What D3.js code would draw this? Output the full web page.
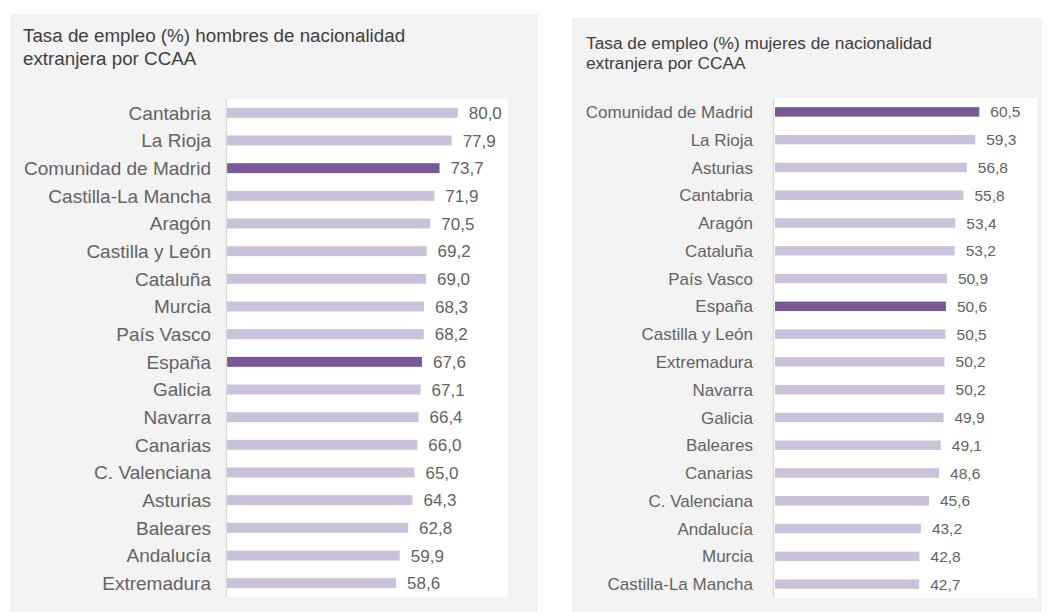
<!DOCTYPE html>
<html><head><meta charset="utf-8">
<script src="https://cdn.jsdelivr.net/npm/d3@7"></script>
<style>html,body{margin:0;padding:0;background:#fff;}svg{display:block;font-family:"Liberation Sans",Arial,sans-serif;}</style>
</head><body>
<svg id="c" width="1052" height="612"></svg>
<script>
const menCategories = ["Cantabria","La Rioja","Comunidad de Madrid","Castilla-La Mancha","Aragón","Castilla y León","Cataluña","Murcia","País Vasco","España","Galicia","Navarra","Canarias","C. Valenciana","Asturias","Baleares","Andalucía","Extremadura"];
const menValues = [80.0,77.9,73.7,71.9,70.5,69.2,69.0,68.3,68.2,67.6,67.1,66.4,66.0,65.0,64.3,62.8,59.9,58.6];
const womenCategories = ["Comunidad de Madrid","La Rioja","Asturias","Cantabria","Aragón","Cataluña","País Vasco","España","Castilla y León","Extremadura","Navarra","Galicia","Baleares","Canarias","C. Valenciana","Andalucía","Murcia","Castilla-La Mancha"];
const womenValues = [60.5,59.3,56.8,55.8,53.4,53.2,50.9,50.6,50.5,50.2,50.2,49.9,49.1,48.6,45.6,43.2,42.8,42.7];
const highlighted = ["Comunidad de Madrid","España"];
const titles = [["Tasa de empleo (%) hombres de nacionalidad","extranjera por CCAA"],["Tasa de empleo (%) mujeres de nacionalidad","extranjera por CCAA"]];

const svg = d3.select("#c");
const LIGHT = "#ccc1da", DARK = "#795896";

function panel(cfg){
  const g = svg.append("g");
  g.append("rect").attr("x",cfg.px).attr("y",cfg.py).attr("width",cfg.pw).attr("height",cfg.ph).attr("fill","#f3f3f3");
  g.append("rect").attr("x",cfg.x0).attr("y",cfg.y0).attr("width",cfg.x1-cfg.x0).attr("height",cfg.y1-cfg.y0).attr("fill","#fff");
  cfg.title.forEach((t,i)=>{
    g.append("text").attr("x",cfg.tx).attr("y",cfg.ty[i]).attr("font-size",cfg.tfs).attr("fill","#404040").text(t);
  });
  const data = cfg.cats.map((c,i)=>({c, v:cfg.vals[i]}));
  const y = d3.scaleBand().domain(cfg.cats).range([cfg.y0,cfg.y1]).paddingInner(cfg.pad).paddingOuter(cfg.pad/2);
  const x = d3.scaleLinear().domain([0,100]).range([cfg.zero, cfg.zero+cfg.k*100]);
  g.selectAll("rect.bar").data(data).join("rect").attr("class","bar")
    .attr("x",x(0)).attr("y",d=>y(d.c)).attr("width",d=>x(d.v)-x(0)).attr("height",y.bandwidth())
    .attr("fill",d=>highlighted.includes(d.c)?DARK:LIGHT);
  g.append("line").attr("x1",cfg.axisX).attr("x2",cfg.axisX).attr("y1",cfg.y0).attr("y2",cfg.y1).attr("stroke","#d9d9d9").attr("stroke-width",1.3);
  g.selectAll("text.cat").data(data).join("text").attr("class","cat")
    .attr("x",cfg.labelX).attr("y",d=>y(d.c)+y.bandwidth()/2).attr("dy","0.36em")
    .attr("text-anchor","end").attr("font-size",cfg.cfs).attr("fill","#636363").text(d=>d.c);
  const fmt = d3.format(".1f");
  g.selectAll("text.val").data(data).join("text").attr("class","val")
    .attr("x",d=>x(d.v)+cfg.gap).attr("y",d=>y(d.c)+y.bandwidth()/2).attr("dy","0.36em")
    .attr("font-size",cfg.vfs).attr("fill","#636363").text(d=>fmt(d.v).replace(".",","));
}

panel({px:10,py:14,pw:528,ph:598,x0:226,x1:508,y0:99,y1:597,zero:227,k:2.884,axisX:226.5,
  cats:menCategories,vals:menValues,pad:0.64,title:titles[0],tx:23,ty:[41.5,65],tfs:18.8,
  labelX:211,cfs:19,vfs:17,gap:11});
panel({px:572,py:18,pw:470,ph:594,x0:773,x1:1037,y0:98,y1:598,zero:775,k:3.377,axisX:773.5,
  cats:womenCategories,vals:womenValues,pad:0.66,title:titles[1],tx:586,ty:[49,69],tfs:17.3,
  labelX:753,cfs:17,vfs:15.5,gap:11});
</script>
</body></html>
